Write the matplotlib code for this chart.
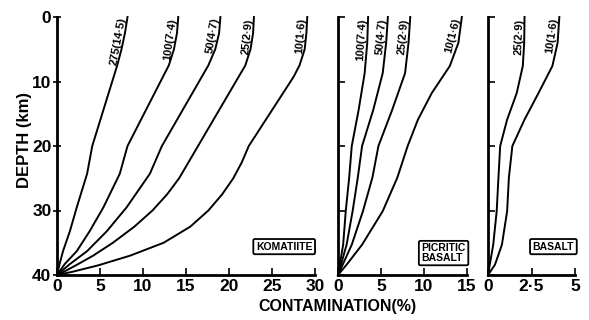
import numpy as np
import matplotlib
matplotlib.use("Agg")
import matplotlib.pyplot as plt

plt.rcParams['font.family'] = ['Liberation Sans', 'DejaVu Sans']
plt.rcParams['font.weight'] = 'bold'

# ---------------- data ----------------
# Komatiite panel: depth (km) and contamination (%) for each curve
kom_labels = ["275(14·5)", "100(7·4)", "50(4·7)", "25(2·9)", "10(1·6)"]
kom_depth = [
    [0, 2.5, 5, 7.5, 20, 24.3, 29.5, 33.2, 36.3, 38.3, 40],
    [0, 2.5, 5, 7.5, 20, 24.3, 29.5, 33.2, 36.3, 38.3, 40],
    [0, 2.5, 5, 7.5, 20, 24.3, 29.5, 33.2, 36.3, 38.3, 40],
    [0, 2.5, 5, 7.5, 20, 22.5, 25, 27.5, 30, 32.5, 35, 37, 38.5, 39.5, 40],
    [0, 2.5, 5, 7.5, 9.3, 20, 22.5, 25, 27.5, 30, 32.5, 35, 37, 38.5, 39.5, 40],
]
kom_contam = [
    [8.2, 7.9, 7.5, 7.0, 4.1, 3.5, 2.3, 1.5, 0.7, 0.3, 0],
    [14.1, 13.95, 13.6, 13.0, 8.2, 7.3, 5.4, 3.8, 2.3, 0.9, 0],
    [19.0, 18.85, 18.4, 17.6, 12.2, 10.8, 8.1, 5.8, 3.5, 1.5, 0],
    [22.9, 22.8, 22.5, 21.9, 16.4, 15.3, 14.2, 12.8, 11.1, 9.0, 6.5, 4.2, 2.2, 0.8, 0],
    [29.1, 29.0, 28.8, 28.2, 27.5, 22.3, 21.5, 20.5, 19.2, 17.6, 15.5, 12.4, 8.5, 4.8, 1.8, 0],
]

# Picritic basalt panel
pic_labels = ["100(7·4)", "50(4·7)", "25(2·9)", "10(1·6)"]
pic_depth = [
    [0, 4, 8.7, 14.4, 20, 24.9, 30.1, 35.3, 40],
    [0, 4, 8.7, 14.4, 20, 24.9, 30.1, 35.3, 40],
    [0, 4, 8.7, 14.4, 20, 24.9, 30.1, 35.3, 40],
    [0, 4, 7.6, 11.8, 15.9, 20, 24.9, 30.1, 35.3, 38.4, 40],
]
pic_contam = [
    [3.5, 3.4, 3.1, 2.4, 1.6, 1.3, 0.9, 0.6, 0],
    [5.8, 5.6, 5.2, 4.1, 2.8, 2.3, 1.7, 1.0, 0],
    [8.4, 8.2, 7.8, 6.3, 4.7, 4.0, 2.9, 1.6, 0],
    [14.4, 14.0, 13.0, 10.9, 9.3, 8.1, 6.9, 5.2, 2.8, 1.0, 0],
]

# Basalt panel
bas_labels = ["25(2·9)", "10(1·6)"]
bas_depth = [
    [0, 4, 7.6, 11.8, 15.9, 20, 24.9, 30.1, 35.3, 40],
    [0, 4, 7.6, 11.8, 15.9, 20, 24.9, 30.1, 35.3, 38.4, 40],
]
bas_contam = [
    [2.1, 2.08, 2.0, 1.65, 1.1, 0.7, 0.6, 0.5, 0.3, 0],
    [4.1, 4.0, 3.7, 2.9, 2.1, 1.4, 1.2, 1.1, 0.8, 0.4, 0],
]

y_ticks = [0, 10, 20, 30, 40]
kom_xticks = [0, 5, 10, 15, 20, 25, 30]
pic_xticks = [0, 5, 10, 15]
bas_xticks = [0, 2.5, 5]
bas_xticklabels = ["0", "2·5", "5"]

# ---------------- figure ----------------
W, H = 589, 320
fig = plt.figure(figsize=(W / 100, H / 100), dpi=100)

def px_axes(x0, x1, ytop, ybot):
    return fig.add_axes([x0 / W, (H - ybot) / H, (x1 - x0) / W, (ybot - ytop) / H])

ax1 = px_axes(57, 315, 17, 275)
ax2 = px_axes(338, 467, 17, 275)
ax3 = px_axes(488, 575, 17, 275)

panels = [
    (ax1, kom_depth, kom_contam, kom_labels, (0, 30), kom_xticks, [str(t) for t in kom_xticks], "KOMATIITE", 35.6),
    (ax2, pic_depth, pic_contam, pic_labels, (0, 15), pic_xticks, [str(t) for t in pic_xticks], "PICRITIC\nBASALT", 36.6),
    (ax3, bas_depth, bas_contam, bas_labels, (0, 5), bas_xticks, bas_xticklabels, "BASALT", 35.6),
]

for i, (ax, depths, contams, labels, xlim, xt, xtl, name, by) in enumerate(panels):
    ax.set_xlim(*xlim)
    ax.set_ylim(40, 0)
    for s in ["top", "right"]:
        ax.spines[s].set_visible(False)
    for s in ["left", "bottom"]:
        ax.spines[s].set_linewidth(2.0)
    ax.set_xticks(xt)
    ax.set_xticklabels(xtl, fontsize=12.5, fontweight='bold')
    ax.set_yticks(y_ticks)
    ax.tick_params(axis='x', direction='in', length=5, width=1.2, pad=3)
    if i == 0:
        ax.set_yticklabels([str(t) for t in y_ticks], fontsize=12.5, fontweight='bold')
        ax.tick_params(axis='y', direction='inout', length=6, width=1.2, pad=1)
    else:
        ax.set_yticklabels([])
        ax.tick_params(axis='y', direction='in', length=5, width=1.2)
    ax.patch.set_alpha(0)
    for d, c in zip(depths, contams):
        ax.plot(c, d, color='black', lw=1.4, solid_joinstyle='round', clip_on=False)

    # curve labels along the top portion of each curve
    for d, c, lab in zip(depths, contams, labels):
        p0 = ax.transData.transform((c[0], d[0]))
        p1 = ax.transData.transform((c[2], d[2]))
        ang = np.degrees(np.arctan2(p0[1] - p1[1], p0[0] - p1[0]))
        ax.text(c[0], d[0] + 0.3, lab, rotation=ang, rotation_mode='anchor',
                ha='right', va='bottom', fontsize=8, fontweight='bold')

    ax.text(xlim[1] * 0.99, by, name, ha='right', va='center', fontsize=7.5,
            fontweight='bold', linespacing=0.9, multialignment='left',
            bbox=dict(boxstyle='round,pad=0.25,rounding_size=0.15', fc='white',
                      ec='black', lw=1.3))

fig.text(25 / W, 1 - 140 / H, "DEPTH (km)", rotation=90, ha='center', va='center',
         fontsize=12, fontweight='bold')
fig.text(337 / W, 1 - 306 / H, "CONTAMINATION(%)", ha='center', va='center',
         fontsize=11.5, fontweight='bold')

fig.savefig("out.png", dpi=100)
